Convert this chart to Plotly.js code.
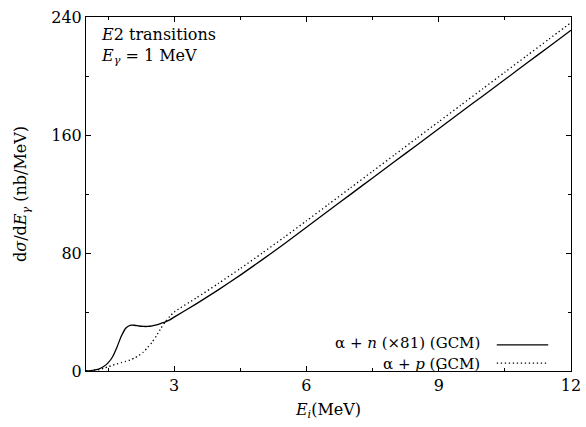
<!DOCTYPE html>
<html>
<head>
<meta charset="utf-8">
<script src="https://cdn.plot.ly/plotly-3.0.1.min.js"></script>
<style>html,body{margin:0;padding:0;background:#fff;}#plot{width:586px;height:427px;}</style>
</head>
<body>
<div id="plot"></div>
<script>
const energies = [1.0,1.1,1.2,1.3,1.4,1.5,1.6,1.7,1.8,1.9,2.0,2.1,2.2,2.3,2.4,2.5,2.6,2.7,2.8,2.9,3.0,3.5,4.0,4.5,5.0,5.5,6.0,6.5,7.0,7.5,8.0,8.5,9.0,9.5,10.0,10.5,11.0,11.5,12.0];
const alphaN = [0,0.3,0.8,1.5,3,5.5,9.5,16,23.5,29,31,31,30.5,30.2,30.2,30.6,31.3,32.3,33.3,34.7,36.5,45.5,55,65,75.5,86.3,97.5,108.6,119.75,130.9,142,153.1,164.25,175.4,186.5,197.6,208.75,219.9,231];
const alphaP = [0,0.2,0.5,1,1.8,2.8,3.8,4.8,5.7,6.5,7.5,8.8,10.5,12.8,16,19.5,24,29,33.5,37,40,49.5,59.3,69.5,80,90.8,101.8,113,124.2,135.4,146.6,157.8,169,180.2,191.4,202.6,213.8,225,236.2];
const seriesNames = ["α + <i>n</i> (×81) (GCM)", "α + <i>p</i> (GCM)"];
const xTicks = [3,6,9,12];
const yTicks = [0,80,160,240];

const fam = "DejaVu Serif";
const font = {family: fam, size: 16, color: "#000"};
const smallFont = {family: fam, size: 15, color: "#000"};
const traces = [
  {x: energies, y: alphaN, type: "scatter", mode: "lines", name: seriesNames[0],
   line: {color: "#000", width: 1.3, shape: "spline", smoothing: 0.6}},
  {x: energies, y: alphaP, type: "scatter", mode: "lines", name: seriesNames[1],
   line: {color: "#000", width: 1.3, dash: "1.3px,2.7px", shape: "spline", smoothing: 0.6}}
];
const axisBase = {showgrid: false, zeroline: false, showline: true, linecolor: "#000", linewidth: 1,
  mirror: "allticks", ticks: "inside", ticklen: 5, tickcolor: "#000", tickfont: font};
const layout = {
  width: 586, height: 427,
  margin: {l: 86, r: 15, t: 17, b: 56},
  paper_bgcolor: "#fff", plot_bgcolor: "#fff",
  showlegend: false,
  font: font,
  xaxis: Object.assign({}, axisBase, {range: [1, 12], tickvals: xTicks, ticktext: xTicks.map(String),
    minor: {ticks: "inside", ticklen: 3, dtick: 1.5, tick0: 0, tickcolor: "#000"},
    title: {text: "<i>E<sub>i</sub></i>(MeV)", font: font, standoff: 9}}),
  yaxis: Object.assign({}, axisBase, {range: [0, 240], tickvals: yTicks, ticktext: yTicks.map(String),
    minor: {ticks: "inside", ticklen: 3, dtick: 40, tick0: 0, tickcolor: "#000"},
    title: {text: "d<i>σ</i>/d<i>E<sub>γ</sub></i> (nb/MeV)", font: font, standoff: 20}}),
  annotations: [
    {xref: "paper", yref: "paper", x: 0.026, y: 0.950, xanchor: "left", yanchor: "middle", showarrow: false,
     text: "<i>E</i>2 transitions", font: font},
    {xref: "paper", yref: "paper", x: 0.026, y: 0.888, xanchor: "left", yanchor: "middle", showarrow: false,
     text: "<i>E<sub>γ</sub></i> = 1 MeV", font: font},
    {xref: "paper", yref: "paper", x: 0.8165, y: 0.078, xanchor: "right", yanchor: "middle", showarrow: false,
     text: seriesNames[0], font: smallFont},
    {xref: "paper", yref: "paper", x: 0.8165, y: 0.020, xanchor: "right", yanchor: "middle", showarrow: false,
     text: seriesNames[1], font: smallFont}
  ],
  shapes: [
    {type: "line", xref: "paper", yref: "paper", x0: 0.847, x1: 0.953, y0: 0.074, y1: 0.074, line: {color: "#000", width: 1.3}},
    {type: "line", xref: "paper", yref: "paper", x0: 0.847, x1: 0.953, y0: 0.022, y1: 0.022, line: {color: "#000", width: 1.3, dash: "1.3px,2.7px"}}
  ]
};
Plotly.newPlot("plot", traces, layout, {displayModeBar: false, staticPlot: true});
</script>
</body>
</html>
